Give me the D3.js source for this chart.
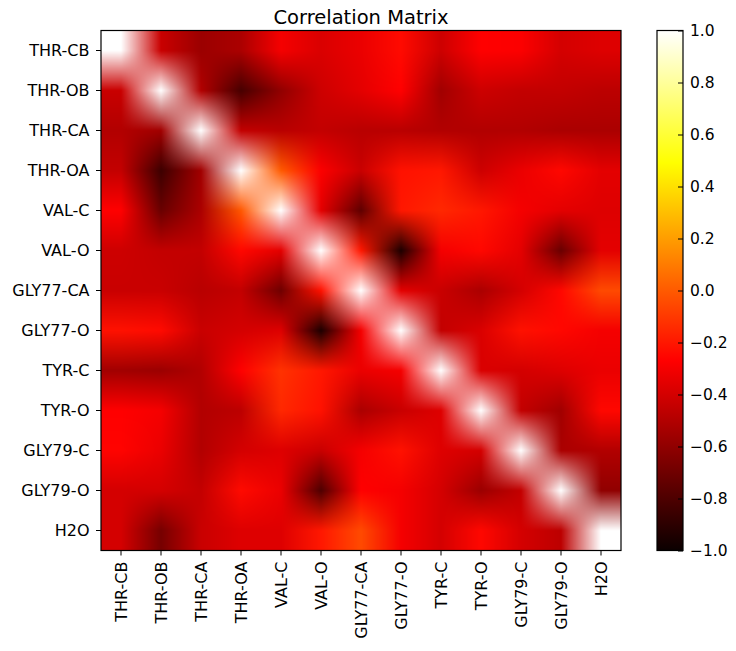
<!DOCTYPE html>
<html>
<head>
<meta charset="utf-8">
<script src="https://cdn.jsdelivr.net/npm/d3@7"></script>
<style>
  body { margin: 0; background: #fff; }
  text { font-family: "DejaVu Sans", sans-serif; fill: #000; }
</style>
</head>
<body>
<div id="chart"></div>
<script>
// etiquetas de atomos (filas y columnas)
const atomos = ['THR-CB', 'THR-OB', 'THR-CA', 'THR-OA', 'VAL-C', 'VAL-O', 'GLY77-CA',
    'GLY77-O', 'TYR-C', 'TYR-O', 'GLY79-C', 'GLY79-O', 'H2O'];

// valores de correlacion, una fila por atomo
const filaTHRCB  = [1, -0.43, -0.57, -0.52, -0.3, -0.38, -0.33, -0.24, -0.42, -0.27, -0.28, -0.4, -0.37];
const filaTHROB  = [-0.43, 1, -0.5, -0.82, -0.6, -0.42, -0.35, -0.27, -0.55, -0.42, -0.45, -0.45, -0.47];
const filaTHRCA  = [-0.5, -0.55, 1, -0.45, -0.48, -0.45, -0.48, -0.48, -0.5, -0.5, -0.5, -0.52, -0.52];
const filaTHROA  = [-0.45, -0.85, -0.55, 1, 0.0, -0.28, -0.43, -0.22, -0.2, -0.42, -0.33, -0.25, -0.35];
const filaVALC   = [-0.27, -0.72, -0.52, -0.01, 1, -0.35, -0.75, -0.2, -0.15, -0.2, -0.3, -0.35, -0.37];
const filaVALO   = [-0.42, -0.45, -0.45, -0.25, -0.35, 1, -0.2, -0.95, -0.3, -0.25, -0.35, -0.72, -0.35];
const filaG77CA  = [-0.43, -0.43, -0.48, -0.45, -0.7, -0.22, 1, -0.35, -0.43, -0.52, -0.4, -0.25, -0.05];
const filaG77O   = [-0.22, -0.24, -0.43, -0.4, -0.37, -0.95, -0.3, 1, -0.45, -0.38, -0.22, -0.25, -0.3];
const filaTYRC   = [-0.55, -0.57, -0.5, -0.27, -0.12, -0.2, -0.33, -0.3, 1, -0.38, -0.4, -0.37, -0.33];
const filaTYRO   = [-0.27, -0.3, -0.5, -0.47, -0.15, -0.22, -0.52, -0.43, -0.37, 1, -0.45, -0.55, -0.25];
const filaG79C   = [-0.26, -0.33, -0.5, -0.4, -0.37, -0.43, -0.3, -0.22, -0.37, -0.4, 1, -0.52, -0.5];
const filaG79O   = [-0.4, -0.4, -0.45, -0.24, -0.33, -0.8, -0.27, -0.3, -0.4, -0.57, -0.45, 1, -0.6];
const filaH2O    = [-0.4, -0.68, -0.43, -0.37, -0.37, -0.2, -0.05, -0.3, -0.4, -0.25, -0.4, -0.47, 1];

const matriz = [filaTHRCB, filaTHROB, filaTHRCA, filaTHROA, filaVALC, filaVALO, filaG77CA,
    filaG77O, filaTYRC, filaTYRO, filaG79C, filaG79O, filaH2O];

// ticks de la barra de color
const ticksBarra = [-1.0, -0.8, -0.6, -0.4, -0.2, 0.0, 0.2, 0.4, 0.6, 0.8, 1.0];

// dimensiones
const width = 736;
const height = 651;
const margin = { top: 30.5, left: 101 };
const lado = 520;
const barra = { x: 657, y: 30.5, w: 26, h: 520 };

const svg = d3.select('#chart')
    .append('svg')
    .attr('width', width)
    .attr('height', height);

// escalas
const x = d3.scaleBand().domain(atomos).range([margin.left, margin.left + lado]);
const y = d3.scaleBand().domain(atomos).range([margin.top, margin.top + lado]);

// mapa de color "hot" de matplotlib
const color = d3.scaleLinear()
    .domain([-1, -0.26984, 0.49206, 1])
    .range(['rgb(11,0,0)', 'rgb(255,0,0)', 'rgb(255,255,0)', 'rgb(255,255,255)'])
    .clamp(true);

// colores de cada celda en rgb
const rgbCeldas = matriz.map(fila => fila.map(v => d3.rgb(color(v))));

// dibujamos el mapa con interpolacion bilineal en un canvas y lo metemos como imagen
const canvas = document.createElement('canvas');
canvas.width = lado;
canvas.height = lado;
const ctx = canvas.getContext('2d');
const img = ctx.createImageData(lado, lado);
const paso = x.step();
const n = atomos.length;

function posCelda(p) {
    let u = (p + 0.5) / paso - 0.5;
    u = Math.max(0, Math.min(n - 1, u));
    const i0 = Math.min(Math.floor(u), n - 2);
    return [i0, u - i0];
}

for (let py = 0; py < lado; py++) {
    const [r0, fy] = posCelda(py);
    for (let px = 0; px < lado; px++) {
        const [c0, fx] = posCelda(px);
        const a = rgbCeldas[r0][c0], b = rgbCeldas[r0][c0 + 1];
        const c = rgbCeldas[r0 + 1][c0], d = rgbCeldas[r0 + 1][c0 + 1];
        const k = (py * lado + px) * 4;
        ['r', 'g', 'b'].forEach((ch, j) => {
            const top = a[ch] * (1 - fx) + b[ch] * fx;
            const bot = c[ch] * (1 - fx) + d[ch] * fx;
            img.data[k + j] = Math.round(top * (1 - fy) + bot * fy);
        });
        img.data[k + 3] = 255;
    }
}
ctx.putImageData(img, 0, 0);

svg.append('image')
    .attr('x', margin.left)
    .attr('y', margin.top)
    .attr('width', lado)
    .attr('height', lado)
    .attr('preserveAspectRatio', 'none')
    .attr('href', canvas.toDataURL());

// marco del grafico
svg.append('rect')
    .attr('x', margin.left)
    .attr('y', margin.top)
    .attr('width', lado)
    .attr('height', lado)
    .attr('fill', 'none')
    .attr('stroke', '#000')
    .attr('stroke-width', 1.2);

// ejes
function ejeX(g) {
    g.attr('transform', `translate(0, ${margin.top + lado})`)
        .call(d3.axisBottom(x).tickSizeInner(5).tickSizeOuter(0))
        .call(g => g.select('.domain').remove())
        .attr('font-size', null)
        .attr('font-family', null);
    g.selectAll('text')
        .attr('font-size', '16px')
        .attr('transform', 'rotate(-90)')
        .attr('dy', '0.35em')
        .attr('x', -11)
        .attr('y', 0)
        .style('text-anchor', 'end');
}

function ejeY(g) {
    g.attr('transform', `translate(${margin.left}, 0)`)
        .call(d3.axisLeft(y).tickSizeInner(5).tickSizeOuter(0).tickPadding(6.5))
        .call(g => g.select('.domain').remove())
        .attr('font-size', null)
        .attr('font-family', null);
    g.selectAll('text').attr('font-size', '16px');
}

svg.append('g').call(ejeX);
svg.append('g').call(ejeY);

// titulo
svg.append('text')
    .attr('x', margin.left + lado / 2)
    .attr('y', 24)
    .attr('text-anchor', 'middle')
    .attr('font-size', '19.5px')
    .text('Correlation Matrix');

// barra de color
const grad = svg.append('defs').append('linearGradient')
    .attr('id', 'grad-hot')
    .attr('x1', 0).attr('y1', 1).attr('x2', 0).attr('y2', 0);
grad.selectAll('stop')
    .data(color.domain())
    .join('stop')
    .attr('offset', d => (d + 1) / 2)
    .attr('stop-color', d => color(d));

svg.append('rect')
    .attr('x', barra.x)
    .attr('y', barra.y)
    .attr('width', barra.w)
    .attr('height', barra.h)
    .attr('fill', 'url(#grad-hot)')
    .attr('stroke', '#000')
    .attr('stroke-width', 1.2);

const yBarra = d3.scaleLinear().domain([-1, 1]).range([barra.y + barra.h, barra.y]);

svg.append('g')
    .attr('transform', `translate(${barra.x + barra.w}, 0)`)
    .call(d3.axisRight(yBarra).tickValues(ticksBarra).tickFormat(d3.format('.1f'))
        .tickSizeInner(-5).tickSizeOuter(0).tickPadding(7))
    .call(g => g.select('.domain').remove())
    .attr('font-size', null)
    .attr('font-family', null)
    .call(g => g.selectAll('text').attr('font-size', '15.5px'));
</script>
</body>
</html>
